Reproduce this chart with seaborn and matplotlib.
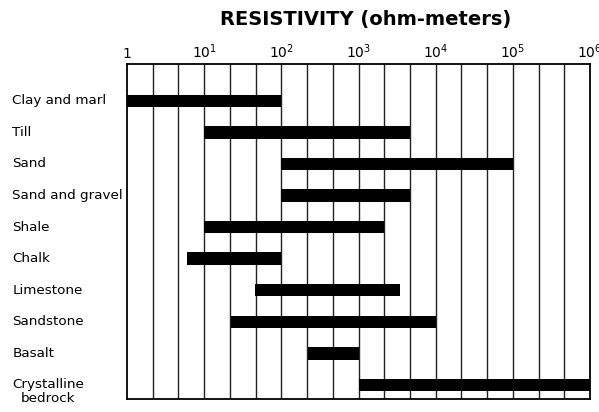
import numpy as np
import matplotlib
matplotlib.use("Agg")
import matplotlib.pyplot as plt
import seaborn as sns

# tipos de rocha e faixas de resistividade (ohm-metros)
rochas = ["Clay and marl", "Till", "Sand", "Sand and gravel", "Shale",
          "Chalk", "Limestone", "Sandstone", "Basalt", "Crystalline\nbedrock"]
minimo = [1, 10, 100, 100, 10, 6, 46, 22, 220, 1000]
maximo = [100, 4600, 100000, 4600, 2150, 100, 3500, 10000, 1000, 1000000]
rotulos_x = ["1", "$10^1$", "$10^2$", "$10^3$", "$10^4$", "$10^5$", "$10^6$"]

sns.set_style("white")
plt.rcParams['font.family'] = ['DejaVu Sans']
plt.rcParams['text.color'] = "black"
plt.rcParams['xtick.color'] = "black"

fig = plt.figure(figsize=(5.99, 4.12), dpi=100)
ax = fig.add_axes([0.212, 0.032, 0.773, 0.813])

y = np.arange(len(rochas))
larguras = np.array(maximo) - np.array(minimo)
ax.barh(y, larguras, left=minimo, height=0.39, color="black",
        edgecolor="black", linewidth=0, zorder=3)

ax.set_xscale("log")
ax.set_xlim(1, 1e6)
ax.set_ylim(9.44, -1.17)

# linhas verticais: cada década dividida em 3
for g in 10 ** (np.arange(1, 18) / 3):
    ax.axvline(g, color="#222222", lw=1.0, zorder=1)

ax.xaxis.tick_top()
ax.set_xticks([10 ** k for k in range(7)])
ax.set_xticklabels(rotulos_x, fontsize=10)
ax.xaxis.set_minor_locator(matplotlib.ticker.NullLocator())
ax.tick_params(axis="x", length=0, pad=2, colors="black")
ax.set_yticks([])

for s in ax.spines.values():
    s.set_color("black")
    s.set_linewidth(1.3)

# nomes das rochas à esquerda
tr = ax.get_yaxis_transform()
for i, nome in enumerate(rochas):
    if "\n" in nome:
        ax.text(-0.248, i - 0.22, nome, transform=tr, ha="left", va="top",
                multialignment="center", fontsize=9.7, linespacing=1.15)
    else:
        ax.text(-0.248, i, nome, transform=tr, ha="left", va="center", fontsize=9.7)

fig.text(0.61, 0.952, "RESISTIVITY (ohm-meters)", ha="center", va="center",
         fontsize=14, fontweight="bold")

fig.savefig("out.png", dpi=100)
